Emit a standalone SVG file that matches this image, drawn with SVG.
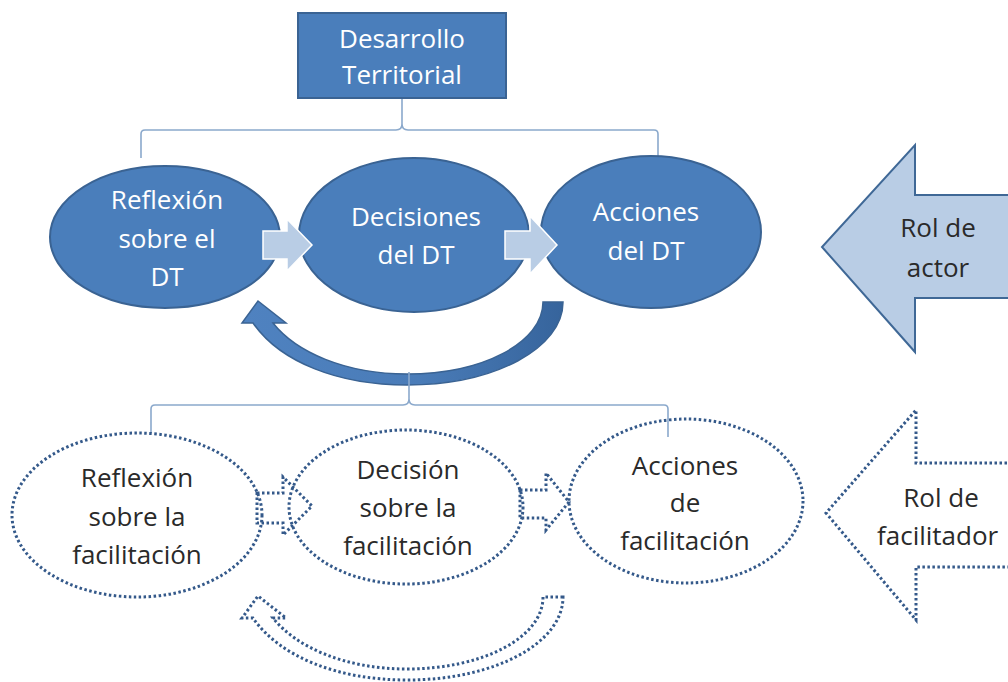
<svg xmlns="http://www.w3.org/2000/svg" width="1008" height="682" viewBox="0 0 1008 682">
<style>
.solid{fill:#4a7ebb;stroke:#3a6393;stroke-width:2}
.wt{fill:#ffffff;font-family:"Open Sans","Liberation Sans",sans-serif;font-size:26px;text-anchor:middle}
.dk{fill:#2a2a2a;font-family:"Open Sans","Liberation Sans",sans-serif;font-size:26px;text-anchor:middle}
.dot{fill:none;stroke:#34598a;stroke-width:3;stroke-dasharray:2.5 2.5}
.light{fill:#b9cde5;stroke:#ffffff;stroke-width:1.5}
.brk{fill:none;stroke:#8ba9cc;stroke-width:1.6}
</style>
<defs>
<linearGradient id="cg" x1="0" y1="0" x2="1" y2="0">
<stop offset="0" stop-color="#4f82c0"/>
<stop offset="0.55" stop-color="#4a7cb8"/>
<stop offset="1" stop-color="#36649c"/>
</linearGradient>
</defs>
<rect width="1008" height="682" fill="#ffffff"/>

<g id="connectors">
<path class="brk" d="M141,158 L141,134 Q141,130 145,130 L396,130 Q402,130 402,124 L402,98 M402,124 Q402,130 408,130 L654,130 Q658,130 658,134 L658,158"/>
<path id="cycle-top" d="M563,302 L543,302 C543,343 482,374 407,374 C345,374 296,352 273,323 L286,323 L258,301 L242,323 L253,323 C280,362 338,385 407,385 C495,385 563,348 563,302 Z" fill="url(#cg)" stroke="#3a6393" stroke-width="1.5"/>
<path class="brk" d="M151,433 L151,409 Q151,405 155,405 L403,405 Q409,405 409,399 L409,372 M409,399 Q409,405 415,405 L664,405 Q668,405 668,409 L668,437"/>
<path id="cycle-bottom" class="dot" transform="translate(0,295)" d="M563,302 L543,302 C543,343 482,374 407,374 C345,374 296,352 273,323 L286,323 L258,301 L242,323 L253,323 C280,362 338,385 407,385 C495,385 563,348 563,302 Z"/>
</g>

<g id="dt">
<rect class="solid" x="298" y="13" width="208" height="85"/>
<text class="wt" x="402" y="48">Desarrollo</text>
<text class="wt" x="402" y="84">Territorial</text>
</g>

<g id="reflexion-dt">
<ellipse class="solid" cx="165" cy="237" rx="115" ry="71"/>
<text class="wt" x="167" y="209">Reflexión</text>
<text class="wt" x="167" y="248">sobre el</text>
<text class="wt" x="167" y="286">DT</text>
</g>
<g id="decisiones-dt">
<ellipse class="solid" cx="414" cy="235" rx="115" ry="77"/>
<text class="wt" x="416" y="226">Decisiones</text>
<text class="wt" x="416" y="264">del DT</text>
</g>
<g id="acciones-dt">
<ellipse class="solid" cx="651" cy="232" rx="110" ry="76"/>
<text class="wt" x="646" y="221">Acciones</text>
<text class="wt" x="646" y="260">del DT</text>
</g>
<g id="arrow-top-1"><path class="light" d="M263,231 L287,231 L287,219 L312,245 L287,271 L287,259 L263,259 Z"/></g>
<g id="arrow-top-2"><path class="light" d="M505,231 L530,231 L530,216 L557,245 L530,274 L530,259 L505,259 Z"/></g>

<g id="rol-actor">
<path d="M1012,195 L915,195 L915,145 L822,247 L915,352 L915,298 L1012,298 Z" fill="#b9cde5" stroke="#3f6896" stroke-width="2"/>
<text class="dk" x="938" y="237">Rol de</text>
<text class="dk" x="938" y="277">actor</text>
</g>

<g id="reflexion-fac">
<ellipse class="dot" cx="137" cy="515" rx="125" ry="82"/>
<text class="dk" x="137" y="487">Reflexión</text>
<text class="dk" x="137" y="526">sobre la</text>
<text class="dk" x="137" y="564">facilitación</text>
</g>
<g id="decision-fac">
<ellipse class="dot" cx="406" cy="507" rx="117" ry="77"/>
<text class="dk" x="408" y="479">Decisión</text>
<text class="dk" x="408" y="517">sobre la</text>
<text class="dk" x="408" y="555">facilitación</text>
</g>
<g id="acciones-fac">
<ellipse class="dot" cx="686" cy="501" rx="117" ry="82"/>
<text class="dk" x="685" y="475">Acciones</text>
<text class="dk" x="685" y="512">de</text>
<text class="dk" x="685" y="550">facilitación</text>
</g>
<g id="arrow-bot-1"><path class="dot" d="M257,493 L283,493 L283,477 L312,506 L283,535 L283,523 L257,523 Z"/></g>
<g id="arrow-bot-2"><path class="dot" d="M520,490 L546,490 L546,473 L569,502 L546,530 L546,518 L520,518 Z"/></g>

<g id="rol-facilitador">
<path class="dot" d="M1012,463 L916,463 L916,410 L826,513 L916,620 L916,567 L1012,567 Z"/>
<text class="dk" x="941" y="507">Rol de</text>
<text class="dk" x="877" y="545" style="text-anchor:start">facilitador</text>
</g>
</svg>
